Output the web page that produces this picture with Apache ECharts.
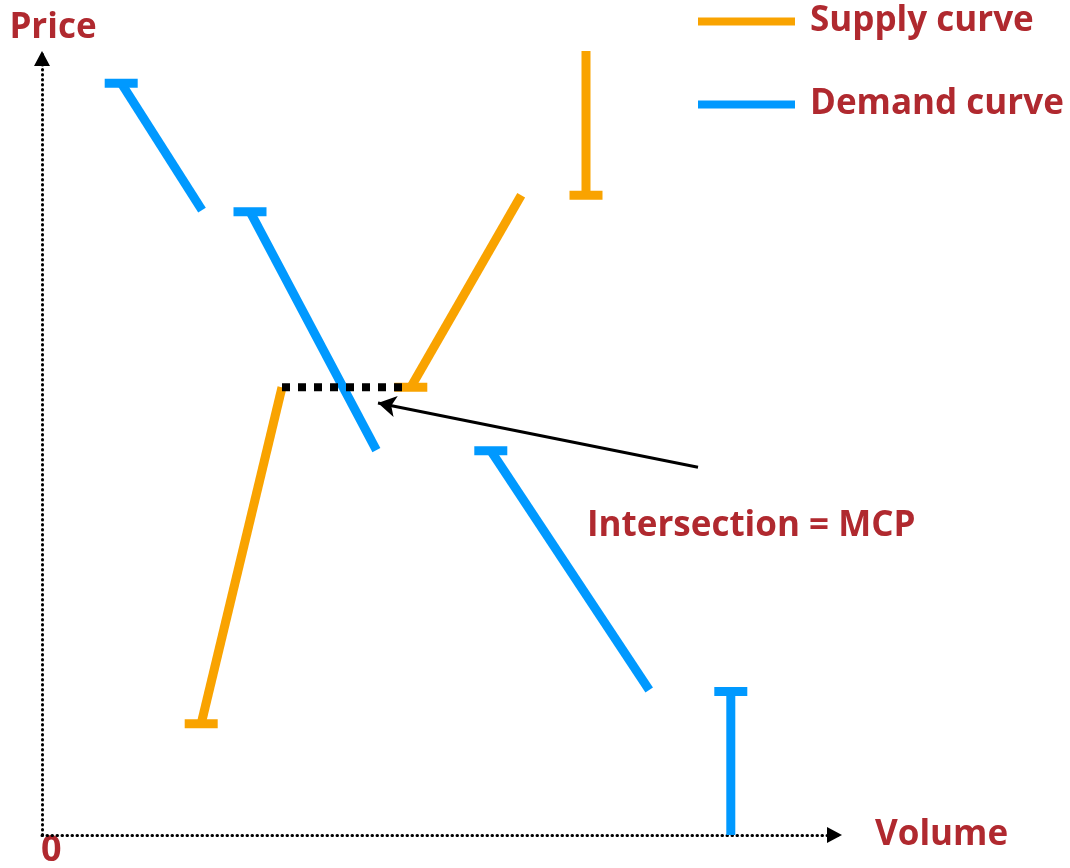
<!DOCTYPE html>
<html>
<head>
<meta charset="utf-8">
<style>
html,body{margin:0;padding:0;background:#fff;}
#chart{width:1070px;height:868px;}
</style>
<script src="https://cdn.jsdelivr.net/npm/echarts@6/dist/echarts.min.js"></script>
</head>
<body>
<div id="chart"></div>
<script>
// ---- data (volume, price) ----
const demandSegments = [
  [[9.9, 95.9], [20.0, 79.7]],
  [[26.0, 79.5], [41.8, 49.1]],
  [[56.1, 49.0], [75.9, 18.5]],
  [[86.1, 18.3], [86.1, 0]]
];
const supplySegments = [
  [[19.9, 14.2], [30.0, 57.1]],
  [[46.1, 57.1], [59.9, 81.6]],
  [[68.0, 81.6], [68.0, 100]]
];
const mcpLine = [[30.0, 57.1], [45.0, 57.1]];
const arrowFromTo = [[82.0, 46.9], [42.0, 55.1]];
const legendNames = ['Supply curve', 'Demand curve'];
const axisNames = { x: 'Volume', y: 'Price', origin: '0' };
const annotationText = 'Intersection = MCP';

const SUPPLY = '#F9A300';
const DEMAND = '#0099FF';
const RED = '#B0292F';
const FONT = '"Open Sans", "DejaVu Sans", sans-serif';

function segSeries(name, color, seg) {
  return {
    type: 'line',
    name: name,
    color: color,
    silent: true,
    z: 2,
    lineStyle: { color: color, width: 9, cap: 'butt' },
    itemStyle: { color: color, borderWidth: 0 },
    data: [
      { value: seg[0], symbol: 'rect', symbolSize: [33, 9] },
      { value: seg[1], symbol: 'none' }
    ]
  };
}

const series = [];
supplySegments.forEach(s => series.push(segSeries(legendNames[0], SUPPLY, s)));
demandSegments.forEach(s => series.push(segSeries(legendNames[1], DEMAND, s)));
series.push({
  type: 'line',
  name: 'mcp',
  silent: true,
  z: 5,
  symbol: 'none',
  lineStyle: { color: '#000', width: 8, type: [8, 8], cap: 'butt' },
  data: mcpLine,
  markLine: {
    silent: true,
    symbol: ['none', 'arrow'],
    symbolSize: [16, 18],
    label: { show: false },
    lineStyle: { color: '#000', width: 3, type: 'solid' },
    data: [[{ coord: arrowFromTo[0] }, { coord: arrowFromTo[1] }]]
  }
});

const axisLineStyle = { color: '#000', width: 3, type: [0.5, 4.5], cap: 'round' };

const chart = echarts.init(document.getElementById('chart'), null, { renderer: 'canvas' });
chart.setOption({
  animation: false,
  backgroundColor: '#fff',
  grid: { left: 42, top: 51, width: 800, height: 784 },
  legend: {
    data: [
      { name: legendNames[0], itemStyle: { color: SUPPLY } },
      { name: legendNames[1], itemStyle: { color: DEMAND } }
    ],
    orient: 'vertical',
    left: 698,
    top: 0,
    padding: 0,
    icon: 'rect',
    itemWidth: 97,
    itemHeight: 8,
    itemGap: 40,
    selectedMode: false,
    textStyle: {
      color: RED, fontFamily: FONT, fontWeight: 'bold', fontSize: 35,
      lineHeight: 40, padding: [3, 0, 0, 10]
    }
  },
  xAxis: {
    type: 'value', min: 0, max: 100,
    name: axisNames.x, nameLocation: 'end', nameGap: 33,
    nameTextStyle: { color: RED, fontFamily: FONT, fontWeight: 'bold', fontSize: 35, padding: [0, 0, 26, 0] },
    axisLine: { show: true, onZero: false, symbol: ['none', 'triangle'], symbolSize: [16, 15], symbolOffset: [0, -7.5],
      lineStyle: axisLineStyle },
    axisTick: { show: false }, axisLabel: { show: false }, splitLine: { show: false }
  },
  yAxis: {
    type: 'value', min: 0, max: 100,
    name: axisNames.y, nameLocation: 'end', nameGap: 5,
    nameTextStyle: { color: RED, fontFamily: FONT, fontWeight: 'bold', fontSize: 35, padding: [0, 0, 0, 22] },
    axisLine: { show: true, onZero: false, symbol: ['none', 'triangle'], symbolSize: [16, 15], symbolOffset: [0, -7.5],
      lineStyle: axisLineStyle },
    axisTick: { show: false }, axisLabel: { show: false }, splitLine: { show: false }
  },
  graphic: [
    { type: 'text', left: 41, top: 833, silent: true,
      style: { text: axisNames.origin, fill: RED, font: 'bold 36px ' + FONT } },
    { type: 'text', left: 587, top: 509, silent: true,
      style: { text: annotationText, fill: RED, font: 'bold 35px ' + FONT } }
  ],
  series: series
});
</script>
</body>
</html>
